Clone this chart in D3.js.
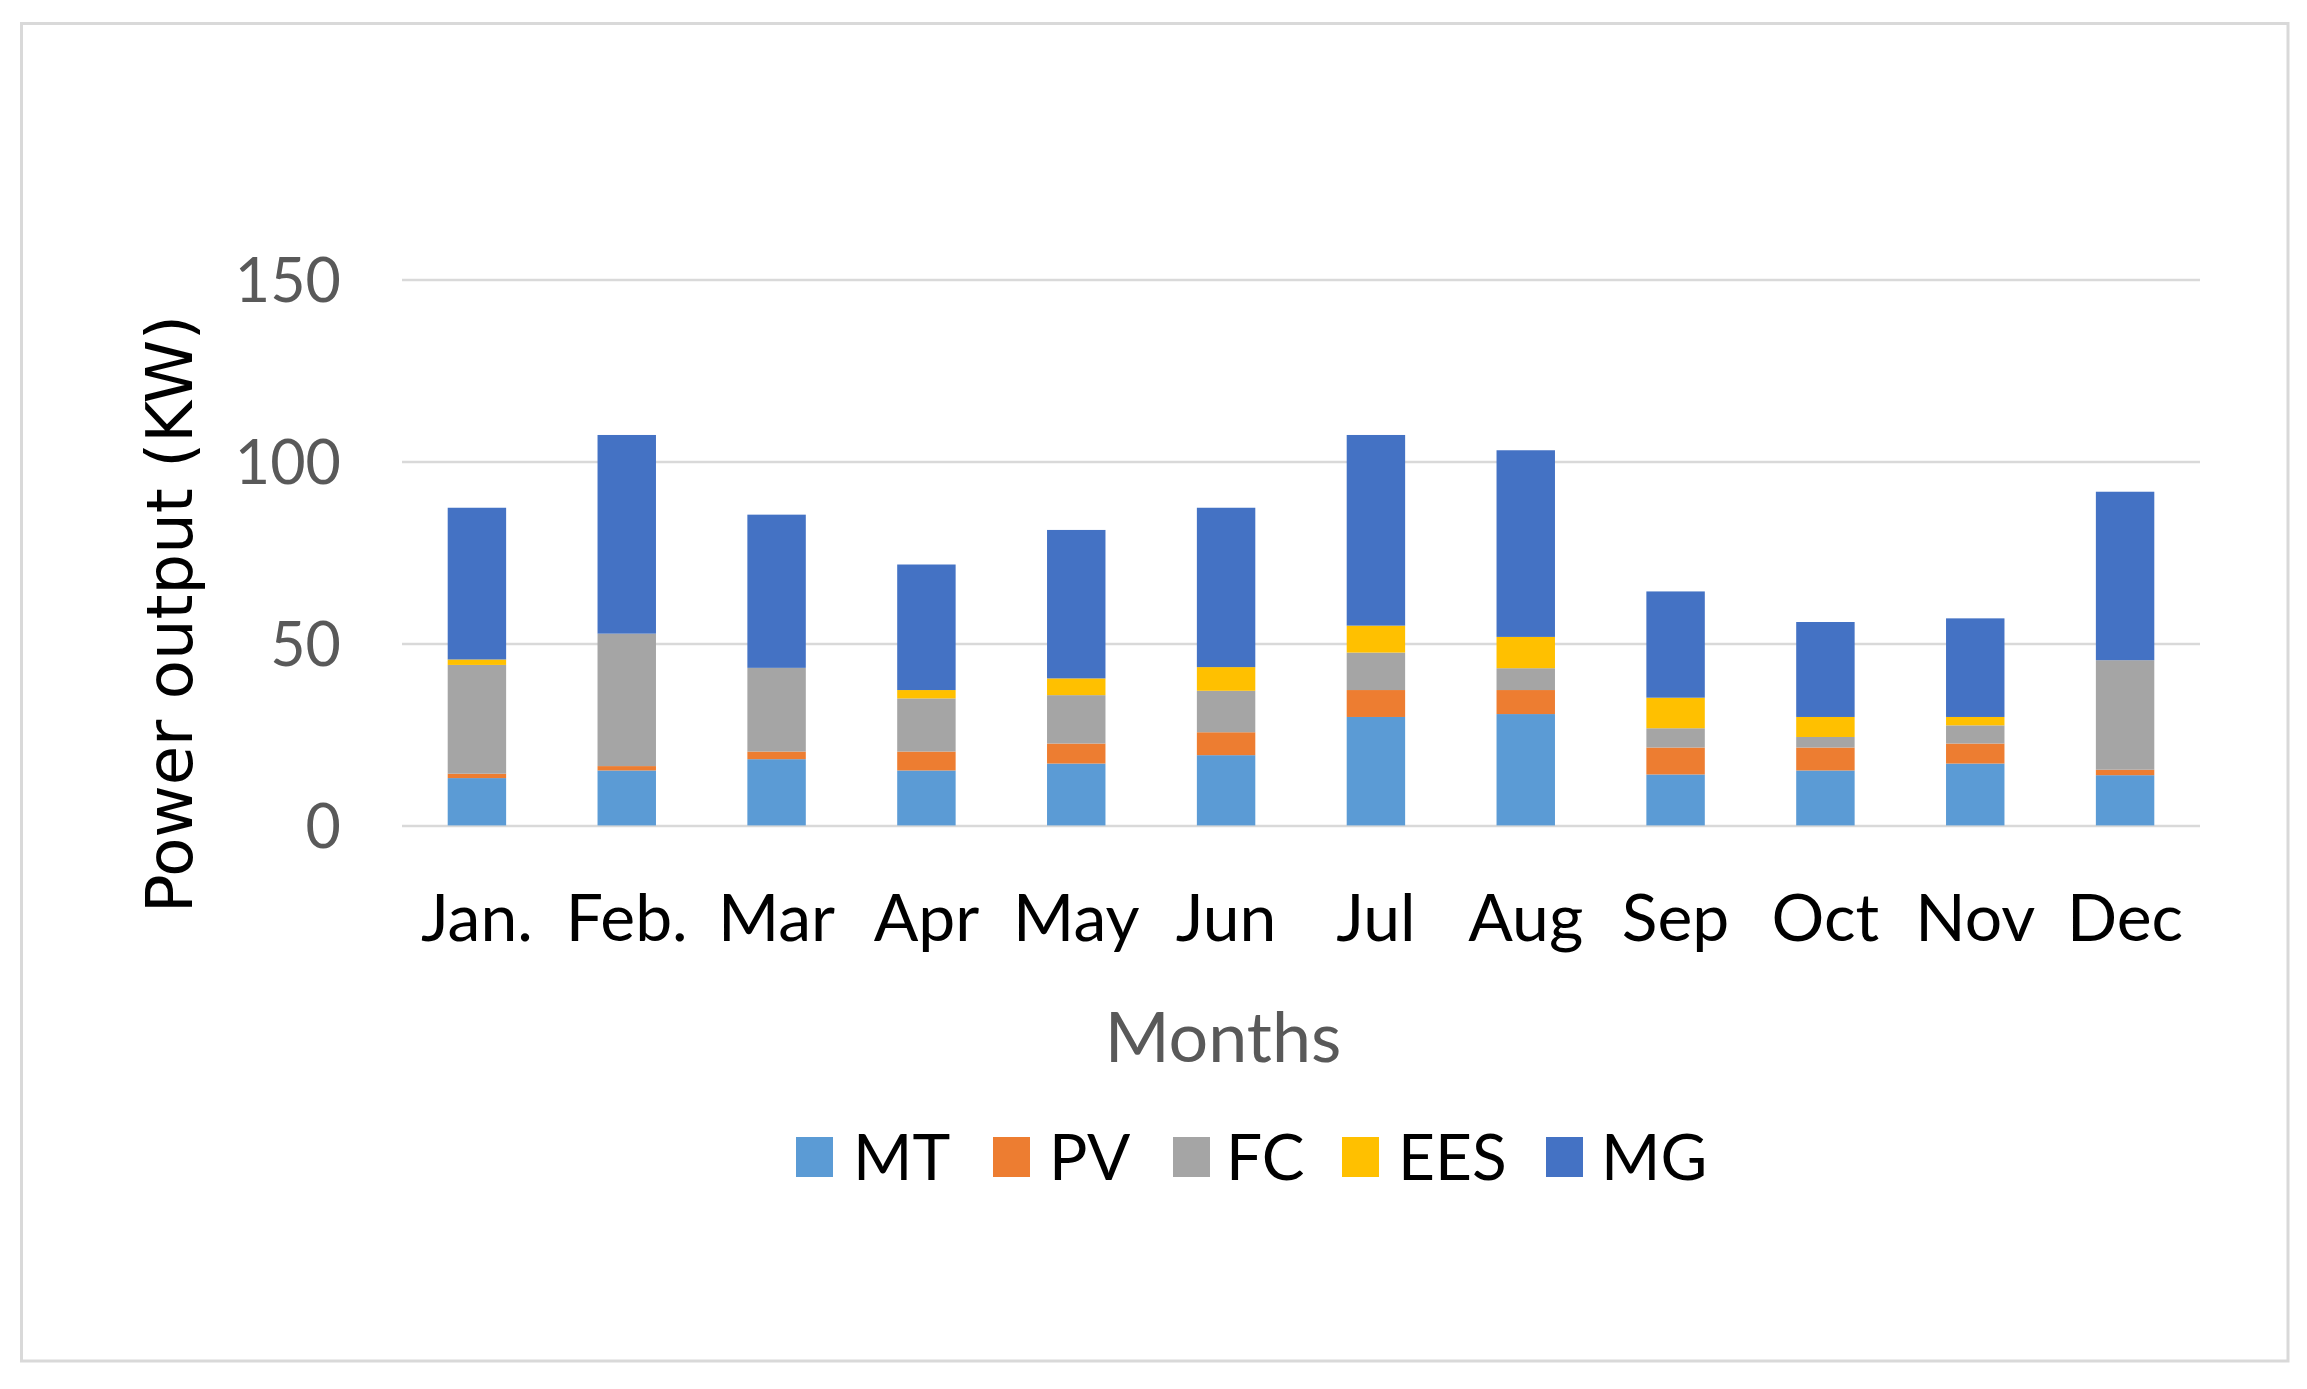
<!DOCTYPE html>
<html>
<head>
<meta charset="utf-8">
<script src="https://cdn.jsdelivr.net/npm/d3@7"></script>
<style>
  html, body { margin: 0; padding: 0; background: #fff; }
  svg { display: block; }
</style>
</head>
<body>
<svg id="chart" width="2307" height="1389"></svg>
<script>
// ---- data ----
const months = ["Jan.", "Feb.", "Mar", "Apr", "May", "Jun", "Jul", "Aug", "Sep", "Oct", "Nov", "Dec"];
const seriesNames = ["MT", "PV", "FC", "EES", "MG"];
const MT  = [13.0, 15.1, 18.2, 15.1, 17.0, 19.3, 29.8, 30.6, 14.0, 15.1, 17.0, 13.8];
const PV  = [1.2, 1.2, 2.1, 5.2, 5.5, 6.3, 7.4, 6.6, 7.4, 6.3, 5.5, 1.5];
const FC  = [29.9, 36.4, 23.0, 14.6, 13.3, 11.4, 10.3, 6.0, 5.3, 2.9, 5.0, 30.1];
const EES = [1.5, 0, 0, 2.3, 4.6, 6.5, 7.4, 8.6, 8.4, 5.5, 2.3, 0];
const MG  = [41.7, 54.6, 42.1, 34.5, 40.8, 43.8, 52.4, 51.3, 29.2, 26.1, 27.1, 46.3];
const yTicks = [0, 50, 100, 150];
const colors = ["#5B9BD5", "#ED7D31", "#A5A5A5", "#FFC000", "#4472C4"];

// ---- build table ----
const seriesValues = { MT, PV, FC, EES, MG };
const table = months.map((m, i) => {
  const row = { month: m };
  seriesNames.forEach(s => row[s] = seriesValues[s][i]);
  return row;
});

const svg = d3.select("#chart");
const W = 2307, H = 1389;
const plot = { left: 402, right: 2200, top: 279.6, bottom: 825.4 };
const tickFont = "Lato, 'Open Sans', sans-serif";

// outer border
svg.append("rect")
  .attr("x", 21.5).attr("y", 23.5)
  .attr("width", 2288 - 21.5).attr("height", 1361 - 23.5)
  .attr("fill", "#fff").attr("stroke", "#d9d9d9").attr("stroke-width", 3);

const x = d3.scaleBand()
  .domain(months)
  .range([plot.left, plot.right])
  .paddingInner(0.61)
  .paddingOuter(0.305);

const y = d3.scaleLinear()
  .domain([0, 150])
  .range([plot.bottom, plot.top]);

// gridlines
const yAxis = d3.axisLeft(y).tickValues(yTicks).tickSize(-(plot.right - plot.left)).tickPadding(61);
const gy = svg.append("g")
  .attr("transform", `translate(${plot.left},0)`)
  .call(yAxis);
gy.select(".domain").remove();
gy.selectAll(".tick line").attr("stroke", "#d9d9d9").attr("stroke-width", 2.5);
gy.selectAll(".tick text")
  .attr("fill", "#595959")
  .style("font-family", tickFont)
  .style("font-size", "61px")
  .attr("dy", "0.36em");

// stacked bars
const stack = d3.stack().keys(seriesNames);
const stacked = stack(table);
const color = d3.scaleOrdinal().domain(seriesNames).range(colors);

svg.append("g").selectAll("g")
  .data(stacked)
  .join("g")
  .attr("fill", d => color(d.key))
  .selectAll("rect")
  .data(d => d)
  .join("rect")
  .attr("x", d => x(d.data.month))
  .attr("width", x.bandwidth())
  .attr("y", d => y(d[1]))
  .attr("height", d => Math.max(0, y(d[0]) - y(d[1])));

// x axis labels
const xAxis = d3.axisBottom(x).tickSize(0).tickPadding(0);
const gx = svg.append("g")
  .attr("transform", `translate(0,${plot.bottom})`)
  .call(xAxis);
gx.select(".domain").remove();
gx.selectAll(".tick text")
  .attr("fill", "#000")
  .attr("y", 0)
  .attr("dy", 0)
  .attr("transform", "translate(0,116)")
  .style("font-family", tickFont)
  .style("font-size", "66px");

// x axis title
svg.append("text")
  .attr("x", 1223).attr("y", 1062)
  .attr("text-anchor", "middle")
  .attr("fill", "#595959")
  .style("font-family", tickFont)
  .style("font-size", "70px")
  .text("Months");

// y axis title
svg.append("text")
  .attr("transform", "translate(192,614) rotate(-90)")
  .attr("text-anchor", "middle")
  .attr("fill", "#000")
  .style("font-family", "'DejaVu Sans', Verdana, sans-serif")
  .style("font-size", "64px")
  .text("Power output (KW)");

// legend
const legendPos = [
  { sq: 796, tx: 853 },
  { sq: 993, tx: 1049 },
  { sq: 1173, tx: 1226 },
  { sq: 1342, tx: 1398 },
  { sq: 1546, tx: 1601 }
];
const lg = svg.append("g");
seriesNames.forEach((s, i) => {
  lg.append("rect")
    .attr("x", legendPos[i].sq).attr("y", 1137)
    .attr("width", 37).attr("height", 40)
    .attr("fill", colors[i]);
  lg.append("text")
    .attr("x", legendPos[i].tx).attr("y", 1180)
    .attr("fill", "#000")
    .style("font-family", tickFont)
    .style("font-size", "64px")
    .text(s);
});
</script>
</body>
</html>
